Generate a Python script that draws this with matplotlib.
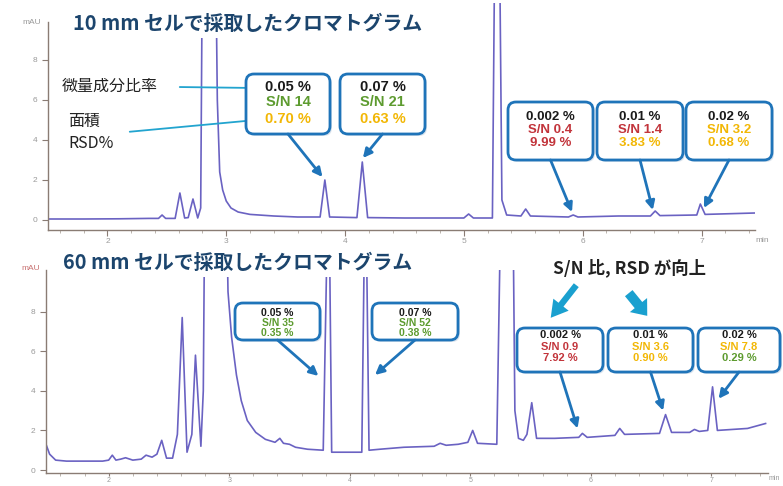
import matplotlib.pyplot as plt
from matplotlib.patches import FancyBboxPatch, FancyArrowPatch, ConnectionPatch, Rectangle
from matplotlib.ticker import MultipleLocator

plt.rcParams['font.family'] = ['Liberation Sans', 'Noto Sans CJK JP', 'DejaVu Sans']

OUT_FILE = "out.png"
JP = ['Noto Sans CJK JP', 'DejaVu Sans']

# 10 mm cell: retention time (min) / absorbance (mAU)
time_10mm = [1.50, 1.80, 2.10, 2.35, 2.43, 2.46, 2.49, 2.57, 2.61, 2.65, 2.68, 2.72, 2.76,
             2.785, 2.80, 2.91, 2.925, 2.945, 2.97, 3.00, 3.04, 3.10, 3.20, 3.40, 3.60,
             3.79, 3.83, 3.87, 4.10, 4.145, 4.19, 4.50, 5.00, 5.04, 5.08, 5.24, 5.26,
             5.30, 5.32, 5.36, 5.48, 5.52, 5.56, 5.88, 5.92, 5.96, 6.30, 6.57, 6.61,
             6.65, 6.96, 6.99, 7.03, 7.45]
mau_10mm = [0.05, 0.05, 0.06, 0.08, 0.08, 0.25, 0.08, 0.08, 1.35, 0.10, 0.12, 1.05, 0.10,
            0.6, 14, 14, 6.0, 2.4, 1.5, 0.95, 0.6, 0.4, 0.28, 0.2, 0.15,
            0.15, 2.0, 0.15, 0.12, 2.9, 0.12, 0.1, 0.1, 0.3, 0.1, 0.1, 14,
            14, 1.0, 0.25, 0.2, 0.55, 0.2, 0.15, 0.25, 0.15, 0.2, 0.2, 0.45,
            0.22, 0.25, 0.8, 0.28, 0.35]

# 60 mm cell
time_60mm = [1.48, 1.51, 1.56, 1.65, 1.95, 2.00, 2.03, 2.06, 2.10, 2.14, 2.20, 2.27, 2.31,
             2.36, 2.40, 2.44, 2.48, 2.53, 2.57, 2.61, 2.65, 2.69, 2.72, 2.765, 2.785,
             2.80, 2.97, 2.99, 3.02, 3.06, 3.10, 3.15, 3.22, 3.30, 3.38, 3.42, 3.45,
             3.50, 3.55, 3.65, 3.78, 3.825, 3.85, 4.10, 4.13, 4.16, 4.25, 4.45, 4.70,
             4.75, 4.80, 4.90, 4.98, 5.02, 5.06, 5.22, 5.26, 5.35, 5.37, 5.40, 5.44,
             5.47, 5.51, 5.55, 5.70, 5.90, 5.93, 5.97, 6.20, 6.24, 6.28, 6.57, 6.62,
             6.67, 6.82, 6.86, 6.90, 6.97, 7.01, 7.05, 7.30, 7.45]
mau_60mm = [1.3, 0.8, 0.5, 0.45, 0.45, 0.5, 0.75, 0.5, 0.55, 0.62, 0.5, 0.55, 0.75,
            0.65, 0.8, 1.5, 0.6, 0.6, 1.8, 7.7, 0.9, 1.8, 5.8, 1.2, 4.0,
            16, 16, 9.0, 6.7, 4.8, 3.5, 2.5, 1.9, 1.55, 1.4, 1.6, 1.35,
            1.3, 1.15, 1.05, 1.0, 16, 0.9, 0.9, 16, 1.0, 1.05, 1.15, 1.2,
            1.35, 1.25, 1.3, 1.4, 2.0, 1.35, 1.3, 16, 16, 3.0, 1.6, 1.5,
            1.8, 3.4, 1.6, 1.6, 1.65, 1.85, 1.65, 1.75, 2.1, 1.8, 1.85, 2.8,
            1.9, 1.9, 2.05, 1.95, 2.0, 4.2, 2.0, 2.1, 2.35]

# impurity results: content ratio (%), S/N, area RSD (%)
ratio_pct = [0.05, 0.07, 0.002, 0.01, 0.02]
sn_10mm = [14, 21, 0.4, 1.4, 3.2]
rsd_10mm = [0.70, 0.63, 9.99, 3.83, 0.68]
sn_60mm = [35, 52, 0.9, 3.6, 7.8]
rsd_60mm = [0.35, 0.38, 7.92, 0.90, 0.29]

TRACE = '#6a62c2'
BOX_BLUE = '#1f74b9'
CYAN = '#22a4cf'
GREEN = '#5d9b2f'
YELLOW = '#f2b705'
RED = '#c2343b'


def sn_color(v):
    if v < 3:
        return RED
    if v < 10:
        return YELLOW
    return GREEN


def rsd_color(v):
    if v > 5:
        return RED
    if v > 0.5:
        return YELLOW
    return GREEN


def setup_axis(ax, xlim, ylim, ytop):
    ax.set_xlim(*xlim)
    ax.set_ylim(*ylim)
    for s in ('top', 'right'):
        ax.spines[s].set_visible(False)
    for s in ('left', 'bottom'):
        ax.spines[s].set_color('#8a7c74')
        ax.spines[s].set_linewidth(1.0)
    ax.spines['left'].set_bounds(ylim[0], ytop)
    ax.set_yticks([0, 2, 4, 6, 8])
    ax.xaxis.set_major_locator(MultipleLocator(1))
    ax.xaxis.set_minor_locator(MultipleLocator(0.2))
    ax.tick_params(axis='both', which='major', labelsize=6, colors='#8a7c74',
                   labelcolor='#999999', length=4, direction='out', width=0.8)
    ax.tick_params(axis='x', which='major', pad=1.5)
    ax.tick_params(axis='x', which='minor', length=2, colors='#b0a8a0')
    ax.patch.set_alpha(0)


def draw_callouts(over, ax, boxes, tips, ratio, sn, rsd, fs, line_y):
    for i, (x0, y0, x1, y1) in enumerate(boxes):
        over.add_patch(FancyBboxPatch((x0 + 2, y0 + 2), x1 - x0, y1 - y0,
                                      boxstyle="round,pad=0,rounding_size=8",
                                      fc='#c9d6e3', ec='none', alpha=0.6, zorder=2))
        over.add_patch(FancyBboxPatch((x0, y0), x1 - x0, y1 - y0,
                                      boxstyle="round,pad=0,rounding_size=8",
                                      fc='white', ec=BOX_BLUE, lw=2, zorder=3))
        cx = (x0 + x1) / 2
        lines = [(f"{ratio[i]:g} %", '#1a1a1a'),
                 (f"S/N {sn[i]:g}", sn_color(sn[i])),
                 (f"{rsd[i]:.2f} %", rsd_color(rsd[i]))]
        for (txt, col), dy in zip(lines, line_y):
            over.text(cx, y0 + dy, txt, ha='center', va='center', fontsize=fs,
                      fontweight='bold', color=col, zorder=4)
        con = ConnectionPatch(xyA=(cx, y1), coordsA=over.transData,
                              xyB=tips[i], coordsB=ax.transData,
                              arrowstyle='-|>', mutation_scale=13, lw=2,
                              color=BOX_BLUE, zorder=3)
        over.add_artist(con)


fig = plt.figure(figsize=(7.83, 4.86), dpi=100)

ax_top = fig.add_axes([48 / 783, 1 - 230 / 486, 707 / 783, 227 / 486])
ax_top.plot(time_10mm, mau_10mm, color=TRACE, lw=1.2)
setup_axis(ax_top, (1.50, 7.45), (-0.5, 10.85), 9.9)

ax_bot = fig.add_axes([46 / 783, 1 - 473 / 486, 722 / 783, 203 / 486])
ax_bot.plot(time_60mm, mau_60mm, color=TRACE, lw=1.2)
setup_axis(ax_bot, (1.48, 7.47), (-0.15, 10.1), 10.1)
ax_bot.tick_params(axis='x', which='major', labelsize=5, pad=0.5, length=2.5)

# overlay in pixel units for titles, call-outs and notes
over = fig.add_axes([0, 0, 1, 1], zorder=5)
over.set_xlim(0, 783)
over.set_ylim(486, 0)
over.axis('off')
over.patch.set_alpha(0)

# axis unit labels
over.text(32, 22, "mAU", fontsize=6, color='#999999', ha='center', va='center')
over.text(31, 268, "mAU", fontsize=6, color='#c87070', ha='center', va='center')
over.text(762, 240, "min", fontsize=6, color='#999999', ha='center', va='center')
over.text(774, 478, "min", fontsize=5, color='#999999', ha='center', va='center')

# panel titles
over.add_patch(Rectangle((68, 0), 370, 38, fc='white', ec='none', zorder=1))
over.text(73, 24, "10 mm セルで採取したクロマトグラム", family=JP, fontsize=14.3,
          fontweight='bold', color='#1c456d', va='center', zorder=2)
over.add_patch(Rectangle((58, 246), 370, 31, fc='white', ec='none', zorder=1))
over.text(63, 262, "60 mm セルで採取したクロマトグラム", family=JP, fontsize=14.3,
          fontweight='bold', color='#1c456d', va='center', zorder=2)

# legend of the call-out rows
over.text(62, 86, "微量成分比率", family=JP, fontsize=11.5, color='#222222', va='center')
over.text(68, 121, "面積", family=JP, fontsize=11.5, color='#222222', va='center')
over.text(68, 143, "RSD%", family=JP, fontsize=11.5, color='#222222', va='center')
over.add_patch(FancyArrowPatch((177, 87), (256, 88), arrowstyle='-|>',
                               mutation_scale=9, lw=1.3, color=CYAN))
over.add_patch(FancyArrowPatch((127, 132), (256, 120), arrowstyle='-|>',
                               mutation_scale=9, lw=1.3, color=CYAN))

top_boxes = [(246, 74, 330, 134), (340, 74, 425, 134), (508, 102, 593, 160),
             (597, 102, 683, 160), (686, 102, 772, 160)]
top_tips = [(3.81, 2.15), (4.15, 3.1), (5.91, 0.4), (6.59, 0.5), (7.02, 0.6)]
draw_callouts(over, ax_top, top_boxes[:2], top_tips[:2], ratio_pct[:2],
              sn_10mm[:2], rsd_10mm[:2], 10.5, (13, 28, 45))
draw_callouts(over, ax_top, top_boxes[2:], top_tips[2:], ratio_pct[2:],
              sn_10mm[2:], rsd_10mm[2:], 9.5, (15, 28, 41))

bot_boxes = [(235, 303, 320, 340), (372, 303, 458, 340), (517, 328, 603, 372),
             (608, 328, 693, 372), (698, 328, 780, 372)]
bot_tips = [(3.74, 4.75), (4.21, 4.8), (5.89, 2.1), (6.60, 3.0), (7.06, 3.6)]
draw_callouts(over, ax_bot, bot_boxes[:2], bot_tips[:2], ratio_pct[:2],
              sn_60mm[:2], rsd_60mm[:2], 7.5, (10, 20, 30))
draw_callouts(over, ax_bot, bot_boxes[2:], bot_tips[2:], ratio_pct[2:],
              sn_60mm[2:], rsd_60mm[2:], 8, (7, 19, 30))

over.text(553, 268, "S/N 比, RSD が向上", family=JP, fontsize=12.5, fontweight='bold',
          color='#222222', va='center')
over.add_patch(FancyArrowPatch((578, 283), (549, 320),
                               arrowstyle='simple,head_width=1.4,head_length=1.2,tail_width=0.45',
                               mutation_scale=10, color='#1aa0cf', lw=0))
over.add_patch(FancyArrowPatch((627, 291), (649, 318),
                               arrowstyle='simple,head_width=1.6,head_length=1.0,tail_width=0.7',
                               mutation_scale=10, color='#1aa0cf', lw=0))

fig.savefig(OUT_FILE, dpi=100)
